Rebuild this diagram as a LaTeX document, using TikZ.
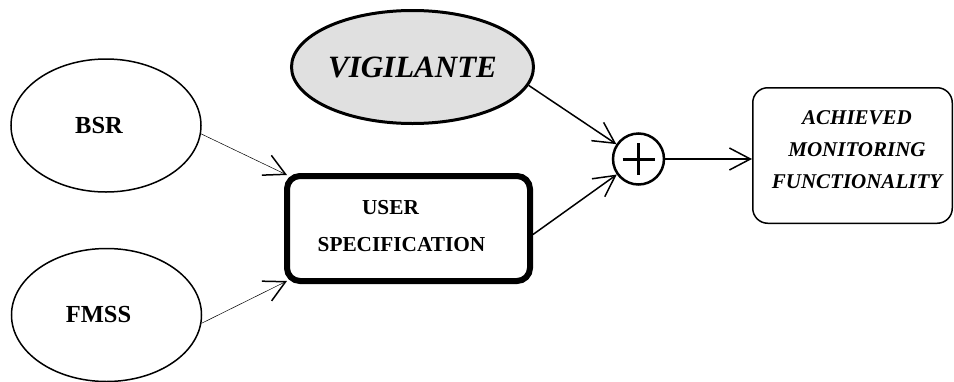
\documentclass[tikz,border=0pt]{standalone}
\usepackage{fontspec}
\setmainfont{Liberation Serif}
\usetikzlibrary{arrows.meta,shapes.geometric,calc}
\definecolor{vfill}{HTML}{E0E0E0}
\begin{document}
\begin{tikzpicture}[x=1pt,y=-1pt,
  barb/.style={-{Straight Barb[length=21pt,width=22pt,line width=1.5pt]}},
  src/.style={ellipse,draw,line width=1.5pt,inner sep=0pt,minimum width=190pt,minimum height=133pt,
    font=\fontsize{24.5}{28}\selectfont\bfseries},
  vig/.style={ellipse,draw,fill=vfill,line width=3pt,inner sep=0pt,minimum width=242pt,minimum height=113pt,
    font=\fontsize{31}{36}\selectfont\bfseries\itshape},
  specbox/.style={draw,rounded corners=13pt,line width=6pt,inner sep=0pt,minimum width=243pt,minimum height=105pt,
    align=center,font=\fontsize{21.3}{37}\selectfont\bfseries},
  outbox/.style={draw,rounded corners=15pt,line width=1.5pt,inner sep=0pt,minimum width=199.5pt,minimum height=135.5pt,
    align=center,font=\fontsize{21}{32}\selectfont\bfseries\itshape},
  sumnode/.style={circle,draw,line width=2.5pt,inner sep=0pt,minimum size=51pt},
  thinline/.style={line width=0.5pt},
  midline/.style={line width=1.5pt}
]
\useasboundingbox (0,0) rectangle (954,381);

\node[src] (bsr) at (106,125.5) {BSR\hspace*{14pt}};
\node[src] (fmss) at (106.5,315) {FMSS\hspace*{16pt}};
\node[vig] (vigil) at (412.5,67) {VIGILANTE};
\node[specbox] (us) at (408.5,228.5) {\kern-36pt USER\\\kern-14pt SPECIFICATION\\[-32pt]\mbox{}};
\node[sumnode] (sum) at (638.5,159) {};
\node[outbox] (out) at (852.5,155.5) {\hspace*{9pt}ACHIEVED\\\hspace*{9pt}MONITORING\\\hspace*{9pt}FUNCTIONALITY\\[-20pt]\mbox{}};

\draw[line width=3pt] ($(sum.center)+(-16,0)$) -- ($(sum.center)+(16,0)$);
\draw[line width=3pt] ($(sum.center)+(0,-16)$) -- ($(sum.center)+(0,16)$);

\coordinate (tipa) at ($(us.north west)+(3,2)$);
\coordinate (tipb) at ($(us.south west)+(3,-3)$);
\coordinate (usout) at ($(us.east)+(0,6)$);

\draw[thinline,barb] (bsr.-5) -- (tipa);
\draw[thinline,barb] (fmss.-5) -- (tipb);
\draw[midline,barb] (vigil.-9) -- (sum);
\draw[midline,barb] (usout) -- (sum);
\draw[midline,barb] (sum.east) -- (sum.east -| out.west);
\end{tikzpicture}
\end{document}
